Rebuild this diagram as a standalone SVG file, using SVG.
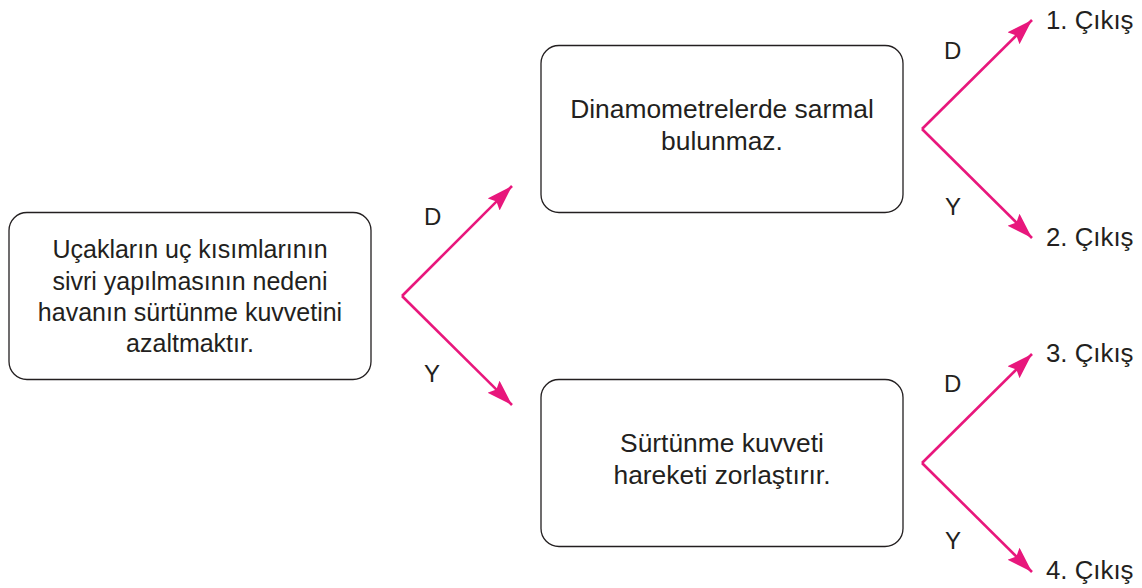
<svg xmlns="http://www.w3.org/2000/svg" width="1142" height="588" viewBox="0 0 1142 588">
<style>
.box{fill:#fff;stroke:#231f20;stroke-width:1.3}
.t{font-family:"Liberation Sans",Arial,sans-serif;font-size:25px;fill:#231f20;text-anchor:middle}
.t2{font-family:"Liberation Sans",Arial,sans-serif;font-size:26.4px;fill:#231f20;text-anchor:middle}
.l{font-family:"Liberation Sans",Arial,sans-serif;font-size:24px;fill:#231f20}
.x{font-family:"Liberation Sans",Arial,sans-serif;font-size:25.8px;fill:#231f20}
.c{fill:none;stroke:#e8177c;stroke-width:2.6}
</style>
<defs>
<marker id="ah" markerUnits="userSpaceOnUse" markerWidth="30" markerHeight="20" refX="26" refY="8.5" orient="auto" viewBox="0 0 30 20">
<path d="M0,0 L26,8.5 L0,17 L4,8.5 Z" fill="#e8177c"/>
</marker>
</defs>
<rect width="1142" height="588" fill="#fff"/>
<g id="start">
<rect class="box" x="9" y="212.5" width="362" height="167" rx="18"/>
<text class="t" x="190" y="258">Uçakların uç kısımlarının</text>
<text class="t" x="190" y="290">sivri yapılmasının nedeni</text>
<text class="t" x="190" y="321">havanın sürtünme kuvvetini</text>
<text class="t" x="190" y="352">azaltmaktır.</text>
</g>
<g id="q1">
<rect class="box" x="541" y="45.5" width="362" height="167" rx="18"/>
<text class="t2" x="722" y="118">Dinamometrelerde sarmal</text>
<text class="t2" x="722" y="150">bulunmaz.</text>
</g>
<g id="q2">
<rect class="box" x="541" y="379.5" width="362" height="167" rx="18"/>
<text class="t2" x="722" y="452">Sürtünme kuvveti</text>
<text class="t2" x="722" y="484">hareketi zorlaştırır.</text>
</g>
<g id="exits">
<text class="x" x="1046" y="29">1. Çıkış</text>
<text class="x" x="1046" y="246">2. Çıkış</text>
<text class="x" x="1046" y="362">3. Çıkış</text>
<text class="x" x="1046" y="579">4. Çıkış</text>
</g>
<g id="connectors">
<line class="c" x1="402" y1="296" x2="512" y2="186" marker-end="url(#ah)"/>
<line class="c" x1="402" y1="296" x2="512" y2="405" marker-end="url(#ah)"/>
<line class="c" x1="922" y1="129" x2="1032" y2="20" marker-end="url(#ah)"/>
<line class="c" x1="922" y1="129" x2="1032" y2="238" marker-end="url(#ah)"/>
<line class="c" x1="922" y1="463" x2="1032" y2="354" marker-end="url(#ah)"/>
<line class="c" x1="922" y1="463" x2="1032" y2="572" marker-end="url(#ah)"/>
<text class="l" x="424" y="225">D</text>
<text class="l" x="424" y="382">Y</text>
<text class="l" x="944" y="59">D</text>
<text class="l" x="945" y="215">Y</text>
<text class="l" x="944" y="392">D</text>
<text class="l" x="945" y="549">Y</text>
</g>
</svg>
